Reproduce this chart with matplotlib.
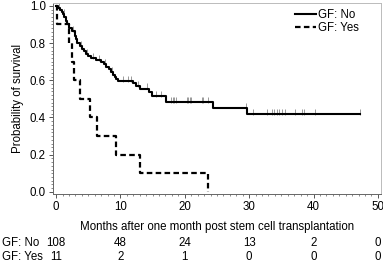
import numpy as np
import matplotlib
matplotlib.use("Agg")
import matplotlib.pyplot as plt
from matplotlib.ticker import MultipleLocator
from matplotlib.transforms import blended_transform_factory

plt.rcParams['font.family'] = ['Liberation Sans', 'DejaVu Sans']
plt.rcParams['font.size'] = 8.3

# GF: No - event times (months) and survival after each step
no_t = [0, 0.3, 0.6, 0.9, 1.1, 1.3, 1.5, 1.7, 2.0, 2.5, 2.9, 3.1, 3.3, 3.7, 4.1,
        4.4, 4.6, 5.0, 5.4, 6.2, 7.0, 7.4, 7.8, 8.2, 8.5, 8.9, 9.1, 9.3, 9.6,
        11.9, 12.4, 13.0, 14.5, 14.9, 17.1, 24.4, 29.6, 47.3]
no_s = [1.0, 0.99, 0.98, 0.965, 0.955, 0.94, 0.92, 0.90, 0.88, 0.866, 0.84, 0.82,
        0.80, 0.785, 0.77, 0.755, 0.74, 0.73, 0.72, 0.71, 0.70, 0.686, 0.672, 0.66,
        0.645, 0.63, 0.62, 0.605, 0.595, 0.585, 0.57, 0.555, 0.535, 0.515, 0.483,
        0.452, 0.42, 0.42]
# censored times for GF: No
no_cens = [0.5, 1.2, 2.6, 3.9, 4.8, 5.8, 6.6, 7.6, 8.7, 10.4, 11.1, 11.7, 12.7,
           14.1, 15.6, 16.3, 17.9, 18.2, 18.4, 18.7, 20.3, 20.5, 20.8, 21.0,
           22.6, 22.9, 23.6, 29.5, 30.6, 32.8, 33.5, 33.9, 34.3, 34.7, 35.1,
           35.5, 37.2, 38.2, 38.5, 40.3, 47.2]

# GF: Yes
yes_t = [0, 0.1, 2.0, 2.4, 2.8, 3.7, 5.2, 6.4, 9.3, 13.0, 23.6]
yes_s = [1.0, 0.9, 0.8, 0.7, 0.6, 0.5, 0.4, 0.3, 0.2, 0.1, 0.0]

# numbers at risk
risk_times = [0, 10, 20, 30, 40, 50]
risk_no = [108, 48, 24, 13, 2, 0]
risk_yes = [11, 2, 1, 0, 0, 0]


def surv_at(t, times, surv):
    idx = np.searchsorted(times, t, side='right') - 1
    return np.array(surv)[idx]


fig = plt.figure(figsize=(3.83, 2.63), dpi=100)
ax = fig.add_axes([0.138, 0.262, 0.857, 0.727])

ax.step(no_t, no_s, where='post', color='black', lw=1.5, label='GF: No', zorder=3)
cy = surv_at(no_cens, no_t, no_s)
ax.plot(no_cens, cy + 0.012, ls='none', marker='|', ms=4, mew=0.7,
        color='#999999', zorder=2)
line2, = ax.step(yes_t, yes_s, where='post', color='black', lw=1.6, label='GF: Yes', zorder=3)
line2.set_dashes((2.5, 1.5))

ax.set_xlim(-0.5, 50.5)
ax.set_ylim(-0.012, 1.016)
ax.xaxis.set_major_locator(MultipleLocator(10))
ax.xaxis.set_minor_locator(MultipleLocator(1))
ax.yaxis.set_major_locator(MultipleLocator(0.2))
ax.yaxis.set_minor_locator(MultipleLocator(0.02))
ax.yaxis.set_major_formatter(matplotlib.ticker.FormatStrFormatter('%.1f'))
ax.tick_params(which='major', length=3, width=0.7, color='#555555', pad=2)
ax.tick_params(which='minor', length=1.5, width=0.6, color='#777777')
for s in ['left', 'bottom']:
    ax.spines[s].set_color('#666666')
    ax.spines[s].set_linewidth(0.7)
for s in ['top', 'right']:
    ax.spines[s].set_color('#bbbbbb')
    ax.spines[s].set_linewidth(0.7)

ax.set_xlabel('Months after one month post stem cell transplantation', labelpad=6)
ax.set_ylabel('Probability of survival', labelpad=4)

leg = ax.legend(loc='upper right', bbox_to_anchor=(0.95, 1.0), frameon=False,
                handlelength=1.8, handletextpad=0.2, labelspacing=0.15,
                borderaxespad=0.1)

# numbers at risk table
tr = blended_transform_factory(ax.transData, fig.transFigure)
for x, a, b in zip(risk_times, risk_no, risk_yes):
    ax.text(x, 1 - 243 / 263, str(a), transform=tr, ha='center', va='center', clip_on=False)
    ax.text(x, 1 - 257 / 263, str(b), transform=tr, ha='center', va='center', clip_on=False)
fig.text(2 / 383, 1 - 243 / 263, 'GF: No', ha='left', va='center')
fig.text(2 / 383, 1 - 257 / 263, 'GF: Yes', ha='left', va='center')

fig.savefig('out.png', dpi=100)
